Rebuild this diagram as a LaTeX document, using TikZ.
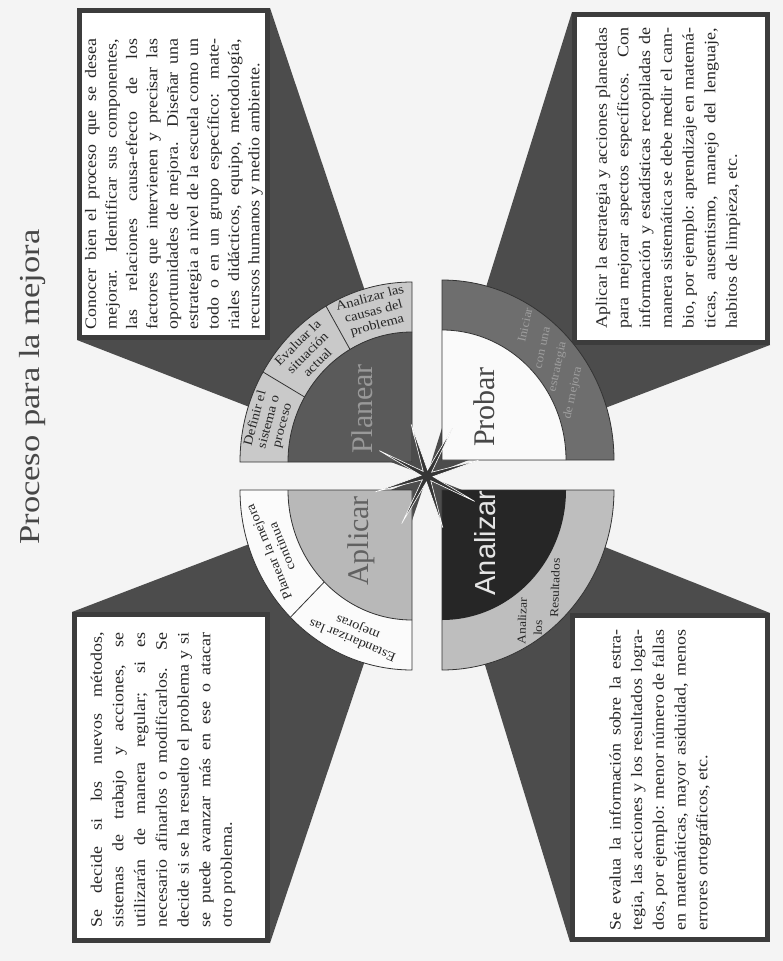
\documentclass[tikz,border=0pt]{standalone}
\usepackage{fontspec}
\setmainfont{Liberation Serif}
\newfontfamily\boxfont[FakeStretch=1.12]{Liberation Serif}
\newfontfamily\titlefont[FakeStretch=1.19]{Liberation Serif}
\newfontfamily\labsans{Liberation Sans}
\setlength{\parindent}{0pt}
\newcommand{\jl}[1]{\makebox[\hsize][s]{#1}\\}
\definecolor{bgc}{HTML}{F4F4F4}
\definecolor{starc}{HTML}{4C4C4C}
\definecolor{boxc}{HTML}{3C3C3C}
\definecolor{textc}{HTML}{262626}
\definecolor{plring}{HTML}{C9C9C9}
\definecolor{plin}{HTML}{5A5A5A}
\definecolor{prring}{HTML}{6E6E6E}
\definecolor{prin}{HTML}{FAFAFA}
\definecolor{apring}{HTML}{FBFBFB}
\definecolor{apin}{HTML}{B8B8B8}
\definecolor{anring}{HTML}{BEBEBE}
\definecolor{anin}{HTML}{262626}
\definecolor{linec}{HTML}{333333}
\begin{document}
\begin{tikzpicture}[x=1pt,y=1pt,
  bigstar/.style={fill=starc},
  descbox/.style={draw=boxc, line width=5pt, fill=white},
  desc/.style={rotate=90, text width=#1, inner sep=0pt, align=justify,
    font=\boxfont\fontsize{16}{21.7}\selectfont, text=textc},
  ringlab/.style={inner sep=0pt, align=center,
    font=\boxfont\fontsize{13}{14}\selectfont, text=textc},
  quadlab/.style={rotate=90, inner sep=0pt, font=\fontsize{30}{30}\selectfont},
  segline/.style={draw=linec, line width=0.8pt},
  smallstar/.style={fill=starc!70!black, draw=white, line width=0.6pt},
]
\useasboundingbox (0,0) rectangle (783,-961);
\fill[bgc] (0,0) rectangle (783,-961);

% big star (four wedges meeting in the centre)
\coordinate (C) at (427,-476);
\fill[bigstar] (270,-8) -- (C) -- (77,-340) -- cycle;
\fill[bigstar] (572,-12) -- (C) -- (770,-345) -- cycle;
\fill[bigstar] (72,-612) -- (C) -- (270,-943) -- cycle;
\fill[bigstar] (770,-613) -- (C) -- (570,-942) -- cycle;

% description boxes
\draw[descbox] (79.5,-10.5) rectangle (267.5,-337.5);
\draw[descbox] (574.5,-14.5) rectangle (767.5,-342.5);
\draw[descbox] (74.5,-614.5) rectangle (267.5,-940.5);
\draw[descbox] (572.5,-615.5) rectangle (767.5,-939.5);

% title
\node[rotate=90, inner sep=0pt, font=\titlefont\fontsize{29}{29}\selectfont, text=black!72] (title) at (33,-387) {Proceso para la mejora};

% description texts
\node[desc=290pt, font=\boxfont\fontsize{16}{20.4}\selectfont] (tPlanear) at (174,-184) {%
\jl{Conocer bien el proceso que se desea}
\jl{mejorar. Identificar sus componentes,}
\jl{las relaciones causa-efecto de los}
\jl{factores que intervienen y precisar las}
\jl{oportunidades de mejora. Diseñar una}
\jl{estrategia a nivel de la escuela como un}
\jl{todo o en un grupo específico: mate-}
\jl{riales didácticos, equipo, metodología,}
recursos humanos y medio ambiente.};

\node[desc=300pt] (tProbar) at (668,-178) {%
\jl{Aplicar la estrategia y acciones planeadas}
\jl{para mejorar aspectos específicos. Con}
\jl{información y estadísticas recopiladas de}
\jl{manera sistemática se debe medir el cam-}
\jl{bio, por ejemplo: aprendizaje en matemá-}
\jl{ticas, ausentismo, manejo del lenguaje,}
habitos de limpieza, etc.};

\node[desc=295pt] (tAplicar) at (163,-780) {%
\jl{Se decide si los nuevos métodos,}
\jl{sistemas de trabajo y acciones, se}
\jl{utilizarán de manera regular; si es}
\jl{necesario afinarlos o modificarlos. Se}
\jl{decide si se ha resuelto el problema y si}
\jl{se puede avanzar más en ese o atacar}
otro problema.};

\node[desc=300pt] (tAnalizar) at (660,-780) {%
\jl{Se evalua la información sobre la estra-}
\jl{tegia, las acciones y los resultados logra-}
\jl{dos, por ejemplo: menor número de fallas}
\jl{en matemáticas, mayor asiduidad, menos}
errores ortográficos, etc.};

% Planear quadrant
\begin{scope}[shift={(412,-462)}]
  \fill[plring] (0,0) -- (180:172 and 180) arc[start angle=180, end angle=90, x radius=172, y radius=180] -- cycle;
  \fill[plin] (0,0) -- (180:124 and 130) arc[start angle=180, end angle=90, x radius=124, y radius=130] -- cycle;
  \draw[segline] (180:124 and 130) arc[start angle=180, end angle=90, x radius=124, y radius=130];
  \draw[segline] (150:124 and 130) -- (150:172 and 180);
  \draw[segline] (120:124 and 130) -- (120:172 and 180);
  \draw[segline] (0,0) -- (180:172 and 180) arc[start angle=180, end angle=90, x radius=172, y radius=180] -- cycle;
  \node[ringlab, rotate=75] (sDef) at (165:148 and 155) {Definir el\\sistema o\\proceso};
  \node[ringlab, rotate=45] (sEva) at (135:148 and 155) {Evaluar la\\situación\\actual};
  \node[ringlab, rotate=15] (sCau) at (105:148 and 155) {Analizar las\\causas del\\problema};
\end{scope}
\node[quadlab, text=black!40] (lPlanear) at (362,-409) {Planear};

% Probar quadrant
\begin{scope}[shift={(442,-460)}]
  \fill[prring] (0,0) -- (0:172 and 180) arc[start angle=0, end angle=90, x radius=172, y radius=180] -- cycle;
  \fill[prin] (0,0) -- (0:124 and 130) arc[start angle=0, end angle=90, x radius=124, y radius=130] -- cycle;
  \draw[segline] (0:124 and 130) arc[start angle=0, end angle=90, x radius=124, y radius=130];
  \draw[segline] (0,0) -- (0:172 and 180) arc[start angle=0, end angle=90, x radius=172, y radius=180] -- cycle;
\end{scope}
\node[ringlab, rotate=78, text=black!38, font=\boxfont\fontsize{12}{13}\selectfont] (p1) at (525,-325) {Iniciar};
\node[ringlab, rotate=78, text=black!38, font=\boxfont\fontsize{12}{13}\selectfont] (p2) at (543,-348) {con una};
\node[ringlab, rotate=78, text=black!38, font=\boxfont\fontsize{12}{13}\selectfont] (p3) at (558,-367) {estrategia};
\node[ringlab, rotate=78, text=black!38, font=\boxfont\fontsize{12}{13}\selectfont] (p4) at (573,-393) {de mejora};
\node[quadlab, text=black!72] (lProbar) at (484,-407) {Probar};

% Aplicar quadrant
\begin{scope}[shift={(412,-490)}]
  \fill[apring] (0,0) -- (180:172 and 180) arc[start angle=180, end angle=270, x radius=172, y radius=180] -- cycle;
  \fill[apin] (0,0) -- (180:124 and 130) arc[start angle=180, end angle=270, x radius=124, y radius=130] -- cycle;
  \draw[segline] (180:124 and 130) arc[start angle=180, end angle=270, x radius=124, y radius=130];
  \draw[segline] (225:124 and 130) -- (225:172 and 180);
  \draw[segline] (0,0) -- (180:172 and 180) arc[start angle=180, end angle=270, x radius=172, y radius=180] -- cycle;
  \node[ringlab, rotate=112.5] (sPla) at (202.5:148 and 155) {Planear la mejora\\continua};
  \node[ringlab, rotate=157.5] (sEst) at (247.5:148 and 155) {Estandarizar las\\mejoras};
\end{scope}
\node[quadlab, text=black!62] (lAplicar) at (361,-541) {Aplicar};

% Analizar quadrant
\begin{scope}[shift={(442,-490)}]
  \fill[anring] (0,0) -- (0:172 and 180) arc[start angle=0, end angle=-90, x radius=172, y radius=180] -- cycle;
  \fill[anin] (0,0) -- (0:124 and 130) arc[start angle=0, end angle=-90, x radius=124, y radius=130] -- cycle;
  \draw[segline] (0,0) -- (0:172 and 180) arc[start angle=0, end angle=-90, x radius=172, y radius=180] -- cycle;
\end{scope}
\node[ringlab, rotate=88, font=\boxfont\fontsize{12}{13}\selectfont] (a1) at (522,-621) {Analizar};
\node[ringlab, rotate=88, font=\boxfont\fontsize{12}{13}\selectfont] (a2) at (538,-628) {los};
\node[ringlab, rotate=88, font=\boxfont\fontsize{12}{13}\selectfont] (a3) at (555,-588) {Resultados};
\node[quadlab, text=black!10, font=\labsans\fontsize{29}{29}\selectfont] (lAnalizar) at (485,-543) {Analizar};

% small centre star
\begin{scope}[shift={(C)}]
  \filldraw[smallstar] (17:54) -- (39.5:6) -- (62:54) -- (84.5:6) -- (107:54) -- (129.5:6)
    -- (152:54) -- (174.5:6) -- (197:54) -- (219.5:6) -- (242:54) -- (264.5:6)
    -- (287:54) -- (309.5:6) -- (332:54) -- (354.5:6) -- cycle;
\end{scope}
\end{tikzpicture}
\end{document}
